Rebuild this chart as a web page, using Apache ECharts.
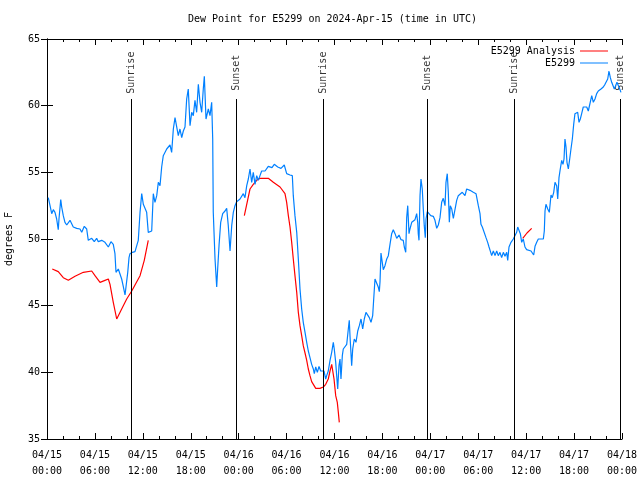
<!DOCTYPE html>
<html>
<head>
<meta charset="utf-8">
<script src="https://cdn.jsdelivr.net/npm/echarts@6/dist/echarts.min.js"></script>
<style>html,body{margin:0;padding:0;background:#fff}#c{width:640px;height:480px}</style>
</head>
<body>
<div id="c"></div>
<script>
// ---- data (hours since 2024-04-15 00:00 UTC, dew point in °F) ----
const e5299Time = [0.16,0.38,0.59,0.79,1.00,1.21,1.41,1.50,1.72,1.84,2.04,2.25,2.47,2.88,3.29,3.72,4.13,4.35,4.67,4.97,5.17,5.60,5.92,6.22,6.42,6.85,7.26,7.68,8.01,8.30,8.51,8.64,8.93,9.14,9.35,9.55,9.77,9.98,10.11,10.27,10.39,10.68,11.02,11.23,11.43,11.65,11.86,12.06,12.27,12.48,12.68,12.90,13.11,13.31,13.52,13.74,13.94,14.15,14.36,14.56,14.78,14.99,15.19,15.40,15.61,15.82,16.03,16.24,16.44,16.65,16.87,17.07,17.28,17.49,17.69,17.91,18.12,18.32,18.53,18.74,18.95,19.16,19.37,19.57,19.70,19.91,20.20,20.41,20.62,20.75,20.82,21.04,21.25,21.37,21.54,21.75,22.00,22.29,22.50,22.70,22.92,23.13,23.33,23.54,23.75,24.17,24.58,24.79,25.01,25.21,25.42,25.63,25.83,26.05,26.26,26.46,26.67,26.88,27.08,27.30,27.51,27.71,27.92,28.17,28.46,28.89,29.30,29.71,30.01,30.43,30.72,30.84,31.05,31.27,31.47,31.68,31.89,32.09,32.31,32.52,32.72,32.93,33.14,33.35,33.47,33.65,33.85,34.06,34.27,34.47,34.68,34.90,35.02,35.22,35.44,35.65,35.85,35.97,36.15,36.40,36.56,36.69,36.81,36.98,37.10,37.32,37.53,37.73,37.85,37.94,38.15,38.28,38.48,38.69,38.91,39.11,39.32,39.53,39.73,39.94,40.16,40.36,40.57,40.78,40.91,41.07,41.28,41.48,41.61,41.70,41.82,41.98,42.11,42.32,42.54,42.74,42.95,43.16,43.36,43.58,43.79,44.08,44.33,44.61,44.74,44.92,45.04,45.17,45.33,45.45,45.67,45.87,46.08,46.29,46.42,46.49,46.58,46.71,46.83,46.99,47.12,47.24,47.37,47.46,47.62,47.83,48.05,48.37,48.58,48.80,49.00,49.21,49.42,49.62,49.84,49.96,50.12,50.25,50.38,50.50,50.68,50.88,51.09,51.30,51.50,51.71,52.00,52.18,52.34,52.55,52.68,52.97,53.38,53.72,54.01,54.22,54.34,54.51,54.76,54.97,55.18,55.35,55.56,55.68,55.89,56.10,56.31,56.51,56.72,56.93,57.14,57.35,57.56,57.69,57.85,58.10,58.39,58.60,58.81,58.94,59.10,59.27,59.44,59.64,59.85,60.06,60.27,60.61,60.77,60.94,61.11,61.32,61.52,61.73,62.15,62.27,62.36,62.48,62.70,62.90,63.11,63.27,63.45,63.61,63.82,63.95,64.11,64.27,64.45,64.61,64.74,64.86,64.99,65.11,65.28,65.45,65.61,65.78,65.95,66.11,66.28,66.45,66.62,66.78,66.95,67.15,67.37,67.58,67.78,67.99,68.21,68.41,68.62,68.83,69.03,69.37,69.66,69.87,70.08,70.21,70.37,70.54,70.71,70.91,71.04,71.21,71.37,71.54,71.75,71.87];
const e5299Dew = [53.1,52.5,51.9,52.2,52.0,51.5,50.7,51.5,52.95,52.4,51.75,51.25,51.05,51.4,50.9,50.8,50.75,50.5,50.95,50.75,49.9,50.05,49.8,50.05,49.8,49.9,49.75,49.4,49.8,49.6,48.9,47.5,47.75,47.6,47.0,46.45,45.8,45.9,47.5,48.6,48.9,49.0,49.05,49.0,49.9,52.0,53.4,52.6,52.6,52.0,50.5,50.6,50.6,53.4,52.75,53.25,54.25,54.0,55.4,56.25,56.4,56.75,56.6,57.05,56.5,58.25,59.1,59.0,57.75,58.25,57.6,58.1,58.4,60.5,61.25,58.5,59.5,59.25,60.4,59.5,61.6,60.25,59.5,61.25,62.2,59.0,59.75,59.25,60.25,57.5,52.0,48.5,46.4,47.75,49.5,51.25,51.9,52.1,52.3,51.0,49.1,51.0,52.0,52.5,52.8,53.0,53.4,53.1,54.0,54.5,55.25,54.25,55.0,54.1,54.75,54.4,54.75,55.1,55.0,55.1,55.25,55.45,55.3,55.35,55.6,55.4,55.3,55.55,54.9,54.8,54.75,53.25,51.75,50.5,48.5,46.25,44.75,43.75,43.0,42.25,41.6,41.1,40.6,40.25,39.9,40.4,40.0,40.45,40.1,40.0,40.1,39.5,39.75,40.1,40.9,41.5,42.25,41.75,40.75,38.75,40.5,41.0,39.5,41.25,41.75,41.6,42.1,43.25,43.9,42.75,40.5,41.75,42.5,42.25,43.1,43.5,44.0,43.25,44.0,44.5,44.6,44.1,43.75,44.25,45.5,47.0,47.05,46.4,46.05,46.8,48.95,48.25,47.7,48.0,48.5,48.75,49.6,50.4,50.7,50.4,50.05,50.3,49.95,49.9,49.4,49.0,51.6,52.5,50.4,50.75,51.25,51.3,51.45,51.9,51.25,50.4,49.9,53.25,54.5,53.75,52.25,51.0,50.1,51.5,52.05,51.9,51.75,51.7,51.4,50.8,51.05,51.6,52.75,53.05,52.5,54.25,54.9,53.5,51.25,52.5,52.25,51.55,51.55,52.9,53.25,53.4,53.5,53.6,53.25,53.75,53.9,53.65,53.5,53.4,52.5,51.9,51.1,50.9,50.75,50.1,49.75,49.4,49.0,48.75,49.1,48.75,49.1,48.75,49.0,48.6,49.0,48.7,49.0,48.4,49.4,49.75,50.0,50.05,50.5,50.9,50.75,50.4,49.75,50.0,49.4,49.2,49.1,49.1,49.0,48.8,49.45,49.75,50.0,50.0,50.0,50.6,52.1,52.6,52.25,52.0,53.3,53.1,53.5,54.25,54.0,53.0,54.6,55.25,55.9,55.6,56.0,57.5,56.9,55.75,55.25,56.0,56.75,57.5,58.6,59.4,59.5,59.5,58.75,59.0,59.4,59.9,60.0,59.9,59.6,59.5,60.75,60.25,60.5,60.9,61.1,61.25,61.4,61.6,61.7,62.0,62.6,62.1,61.75,61.6,61.25,61.4,61.75,61.75,61.2,61.0];

const analysisTime = [0.66,1.41,2.04,2.67,3.51,4.55,5.60,6.01,6.64,7.26,7.68,7.89,8.30,8.73,9.35,9.98,10.61,11.65,12.18,12.68,18.00,24.71,25.01,25.42,25.83,26.26,26.67,27.71,28.34,29.18,29.80,30.01,30.22,30.43,30.64,30.84,31.05,31.27,31.47,31.68,31.89,32.09,32.31,32.52,32.72,32.93,33.14,33.35,33.65,34.18,34.60,34.90,35.22,35.44,35.65,35.94,36.15,36.35,36.48,36.60,48.00,59.57,60.10,60.69];
const analysisDew = [47.75,47.55,47.1,46.9,47.2,47.5,47.6,47.25,46.75,46.9,47.0,46.6,45.25,44.0,44.75,45.5,46.1,47.25,48.4,49.9,null,51.75,52.6,53.75,54.1,54.4,54.55,54.55,54.25,53.9,53.4,52.75,51.75,50.9,49.75,48.5,47.25,46.0,44.5,43.5,42.75,42.0,41.45,40.9,40.25,39.75,39.3,39.1,38.8,38.8,38.9,39.1,39.5,40.1,40.6,39.5,38.25,37.75,37.0,36.25,null,50.05,50.45,50.8];

const eventNames = ['Sunrise','Sunset','Sunrise','Sunset','Sunrise','Sunset'];
const eventTime = [10.55,23.70,34.60,47.65,58.52,71.75];

const xTickDay = ['04/15','04/15','04/15','04/15','04/16','04/16','04/16','04/16','04/17','04/17','04/17','04/17','04/18'];
const xTickClock = ['00:00','06:00','12:00','18:00','00:00','06:00','12:00','18:00','00:00','06:00','12:00','18:00','00:00'];

const titleText = 'Dew Point for E5299 on 2024-Apr-15 (time in UTC)';
const seriesNames = ['E5299 Analysis', 'E5299'];
// ---------------------------------------------------------------

const FONT = 'DejaVu Sans Mono';
const yMin = 35, yMax = 65;
const eventLineTop = 60.5;   // vertical event lines stop below their label
const eventLabelY = 62.4;    // label centre

const blueData = e5299Time.map((t, i) => [t, e5299Dew[i]]);
const redData = analysisTime.map((t, i) => [t, analysisDew[i] == null ? '-' : analysisDew[i]]);

const chart = echarts.init(document.getElementById('c'), null, {renderer: 'canvas'});

const axisCommon = {
  type: 'value', min: 0, max: 72, interval: 6,
  axisLine: {show: true, onZero: false, lineStyle: {color: '#000', width: 1}},
  axisTick: {show: true, inside: true, length: 6, lineStyle: {color: '#000'}},
  minorTick: {show: true, splitNumber: 3, length: 3, lineStyle: {color: '#000'}},
  splitLine: {show: false}
};

chart.setOption({
  animation: false,
  backgroundColor: '#fff',
  title: {
    text: titleText, left: 188, top: 14, padding: 0,
    textStyle: {fontFamily: FONT, fontSize: 10, fontWeight: 'normal', color: '#000'}
  },
  legend: {
    orient: 'vertical', right: 27, top: 40, align: 'right',
    itemWidth: 28, itemHeight: 1, itemGap: 0,
    icon: 'rect',
    data: seriesNames,
    textStyle: {fontFamily: FONT, fontSize: 10, color: '#000', lineHeight: 12}
  },
  grid: {left: 47, right: 18, top: 39, bottom: 41, containLabel: false, outerBoundsMode: 'none'},
  xAxis: [
    Object.assign({}, axisCommon, {
      position: 'bottom',
      axisLabel: {
        show: true, margin: 8, color: '#000', fontFamily: FONT, fontSize: 10, lineHeight: 16,
        formatter: v => { const i = Math.round(v / 6); return xTickDay[i] + '\n' + xTickClock[i]; }
      }
    }),
    Object.assign({}, axisCommon, {position: 'top', axisLabel: {show: false}})
  ],
  yAxis: [
    {
      type: 'value', min: yMin, max: yMax, interval: 5, position: 'left',
      name: 'degrees F', nameLocation: 'middle', nameRotate: 90, nameGap: 33,
      nameTextStyle: {fontFamily: FONT, fontSize: 10, color: '#000'},
      axisLine: {show: true, lineStyle: {color: '#000'}},
      axisTick: {show: true, inside: true, length: 6, lineStyle: {color: '#000'}},
      axisLabel: {margin: 7, color: '#000', fontFamily: FONT, fontSize: 10},
      splitLine: {show: false}
    },
    {
      type: 'value', min: yMin, max: yMax, interval: 5, position: 'right',
      axisLine: {show: true, lineStyle: {color: '#000'}},
      axisTick: {show: true, inside: true, length: 6, lineStyle: {color: '#000'}},
      axisLabel: {show: false},
      splitLine: {show: false}
    }
  ],
  series: [
    {
      name: seriesNames[0], type: 'line', data: redData, xAxisIndex: 0, yAxisIndex: 0,
      showSymbol: false, symbol: 'none', connectNulls: false,
      lineStyle: {color: '#ff0000', width: 1.2}, itemStyle: {color: '#ff0000'}
    },
    {
      name: seriesNames[1], type: 'line', data: blueData, xAxisIndex: 0, yAxisIndex: 0,
      showSymbol: false, symbol: 'none',
      lineStyle: {color: '#0080ff', width: 1.2}, itemStyle: {color: '#0080ff'}
    },
    {
      name: 'events', type: 'scatter', xAxisIndex: 0, yAxisIndex: 0,
      symbolSize: 1, itemStyle: {color: 'rgba(0,0,0,0)'}, silent: true,
      data: eventTime.map((t, i) => ({value: [t, eventLabelY], name: eventNames[i]})),
      label: {
        show: true, position: 'inside', rotate: 90, offset: [1, 0],
        formatter: p => p.name,
        fontFamily: FONT, fontSize: 10, color: '#000'
      },
      markLine: {
        silent: true, symbol: ['none', 'none'], animation: false,
        label: {show: false},
        lineStyle: {color: '#000', width: 1, type: 'solid'},
        data: eventTime.map(t => [{coord: [t, yMin]}, {coord: [t, eventLineTop]}])
      }
    }
  ]
});
</script>
</body>
</html>
